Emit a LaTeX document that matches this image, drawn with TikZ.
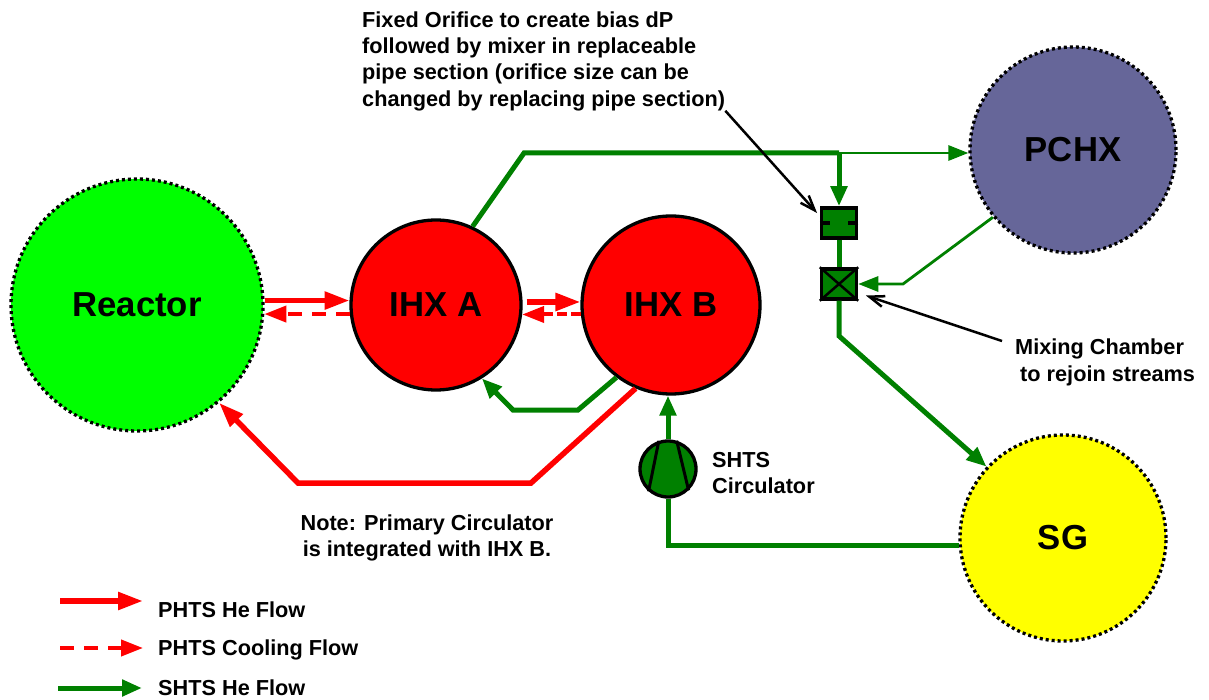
\documentclass[tikz,border=0pt]{standalone}
\usepackage{fontspec}
\setmainfont{Liberation Sans}
\usetikzlibrary{arrows.meta}

\definecolor{shtsgreen}{HTML}{008000}
\definecolor{pchxblue}{HTML}{666699}
\definecolor{sgyellow}{HTML}{FFFF00}

\tikzset{
    vessel/.style={circle,draw=black,line width=3.3pt,inner sep=0pt,font=\fontsize{34.7}{34.7}\selectfont\bfseries},
    dottedvessel/.style={vessel,dash pattern=on 3pt off 3pt},
    valvebox/.style={rectangle,draw=black,fill=shtsgreen,line width=3.5pt,inner sep=0pt,minimum width=35pt,minimum height=30pt},
    note/.style={inner sep=0pt,align=left,font=\fontsize{21.7}{26.3}\selectfont\bfseries},
    phts/.style={red,line width=5.5pt,-{Triangle[length=25pt,width=17pt]}},
    phtscool/.style={red,line width=4pt,dash pattern=on 14pt off 10pt,-{Triangle[length=22pt,width=16pt]}},
    shts/.style={shtsgreen,line width=5pt,-{Triangle[length=20pt,width=16pt]}},
    shtsline/.style={shtsgreen,line width=5pt},
    shtsthin/.style={shtsgreen,line width=2.8pt,-{Triangle[length=20pt,width=15pt]}},
    pointer/.style={black,line width=2.5pt,-{Straight Barb[length=15pt,width=11pt]}},
}

\begin{document}
\begin{tikzpicture}[x=1pt,y=-1pt]

    \useasboundingbox (0,0) rectangle (1209,700);

    % main vessels
    \node[dottedvessel,fill=green,minimum size=252pt] (reactor) at (137,305) {Reactor};
    \node[vessel,fill=red,minimum size=170pt] (ihxA) at (436,305) {IHX A};
    \node[vessel,fill=red,minimum size=178pt] (ihxB) at (671,305) {IHX B};
    \node[dottedvessel,fill=pchxblue,minimum size=206pt] (pchx) at (1073,150) {PCHX};
    \node[dottedvessel,fill=sgyellow,minimum size=206pt] (sg) at (1063,538) {SG};

    % orifice, mixer, circulator
    \node[valvebox] (orifice) at (839,223) {};
    \node[valvebox] (mixer) at (839,284) {};
    \node[circle,draw=black,fill=shtsgreen,line width=3.3pt,inner sep=0pt,minimum size=56pt] (circulator) at (668,469) {};
    \draw[line width=3.3pt] (orifice.west) -- ++(10,0); % orifice plate
    \draw[line width=3.3pt] (orifice.east) -- ++(-10,0);
    \draw[line width=2.5pt] (mixer.north west) -- (mixer.south east);
    \draw[line width=2.5pt] (mixer.south west) -- (mixer.north east);
    \draw[line width=3pt] (circulator.108) -- (circulator.229); % blades
    \draw[line width=3pt] (circulator.73) -- (circulator.-46);

    % bends
    \coordinate (topBend) at (524,153);
    \coordinate (topJoint) at (839,153);
    \coordinate (pchxBend) at (903,284);
    \coordinate (mixerBend) at (839,336);
    \coordinate (sgBend) at (circulator.south |- sg.184.4);
    \coordinate (returnBendA) at (578,410);
    \coordinate (returnBendB) at (513,410);
    \coordinate (primaryBendA) at (531,483);
    \coordinate (primaryBendB) at (298,483);

    % primary paths
    \draw[phts] (reactor.2.3) -- (reactor.2.3 -| ihxA.176.6); % Reactor -> IHX A
    \draw[phtscool] (ihxA.186) -- (ihxA.186 -| reactor.-4); % IHX A -> Reactor
    \draw[phts,shorten <=4pt] (ihxA.2.7) -- (ihxA.2.7 -| ihxB.177.4); % IHX A -> IHX B
    \draw[phtscool,dash pattern=on 10pt off 4pt] (ihxB.186.4) -- (ihxB.186.4 -| ihxA.-6.8); % IHX B -> IHX A
    \draw[phts] (ihxB.247) -- (primaryBendA) -- (primaryBendB) -- (reactor.-50); % IHX B -> Reactor

    % secondary paths
    \draw[shtsline] (ihxA.65.8) -- (topBend) -- (topJoint);
    \draw[shtsthin] (topJoint) -- (topJoint -| pchx.181.7); % joint -> PCHX
    \draw[shts] (topJoint) -- (orifice.north); % joint -> orifice
    \draw[shtsline] (orifice.south) -- (mixer.north);
    \draw[shtsthin] (pchx.220.5) -- (pchxBend) -- (mixer.east); % PCHX -> mixer
    \draw[shts] (mixer.south) -- (mixerBend) -- (sg.137.3); % mixer -> SG
    \draw[shtsline] (sg.184.4) -- (sgBend) -- (circulator.south); % SG -> circulator
    \draw[shts] (circulator.north) -- (circulator.north |- ihxB.268); % circulator -> IHX B
    \draw[shts] (ihxB.233.5) -- (returnBendA) -- (returnBendB) -- (ihxA.-58.7); % IHX B -> IHX A

    % notes
    \node[note,anchor=west] (orificeNote) at (362,61) {Fixed Orifice to create bias dP\\followed by mixer in replaceable\\pipe section (orifice size can be\\changed by replacing pipe section)};
    \node[note,anchor=north west] (mixerNote) at (1015,339) {Mixing Chamber\\\hspace{5pt}to rejoin streams};
    \node[note,anchor=west] (circulatorNote) at (712,473) {SHTS\\Circulator};
    \node[note,align=center] (primaryNote) at (427,538) {Note: Primary Circulator\\is integrated with IHX B.};
    \coordinate (mixerFrom) at (1002,341);

    \draw[pointer,shorten >=4pt] (orificeNote.south east) -- (orifice.160);
    \draw[pointer,shorten >=8pt] (mixerFrom) -- (mixer.-25);

    % legend
    \node[note,anchor=west] (legendHe) at (158,610) {PHTS He Flow};
    \node[note,anchor=west] (legendCool) at (158,650) {PHTS Cooling Flow};
    \node[note,anchor=west] (legendShts) at (158,688) {SHTS He Flow};
    \coordinate (legendHeFrom) at (60,601);
    \coordinate (legendCoolFrom) at (60,648);
    \coordinate (legendShtsFrom) at (58,688);
    \draw[phts,shorten >=15pt] (legendHeFrom) -- (legendHeFrom -| legendHe.west);
    \draw[phtscool,shorten >=15pt] (legendCoolFrom) -- (legendCoolFrom -| legendCool.west);
    \draw[shts,shorten >=16pt] (legendShtsFrom) -- (legendShtsFrom -| legendShts.west);

\end{tikzpicture}
\end{document}
